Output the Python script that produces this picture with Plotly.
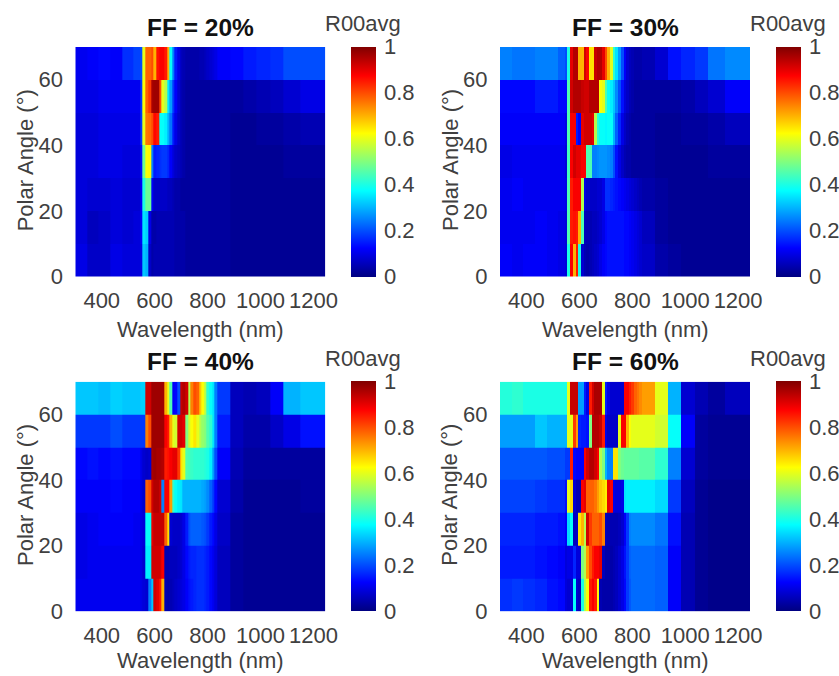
import plotly.graph_objects as go

W, H = 839, 676
polar_edges = [0, 10, 20, 30, 40, 50, 60, 70]
titles = ["FF = 20%", "FF = 30%", "FF = 40%", "FF = 60%"]
x_ticks = [400, 600, 800, 1000, 1200]
y_ticks = [0, 20, 40, 60]
cbar_ticks = [0, 0.2, 0.4, 0.6, 0.8, 1]

jet = [[0, "rgb(0,0,128)"], [0.125, "rgb(0,0,255)"], [0.375, "rgb(0,255,255)"],
       [0.625, "rgb(255,255,0)"], [0.875, "rgb(255,0,0)"], [1, "rgb(128,0,0)"]]

# Wavelength cell edges (nm), shared by all panels
wl_edges = [300, 344, 388, 432, 476, 520,
            545, 555, 565, 575, 586, 596, 606, 616, 626, 636, 646, 656, 666, 676, 686,
            696, 706, 716, 726, 736, 746, 756, 767, 777, 787, 797, 807, 817, 827,
            837, 885, 935, 986, 1036, 1086, 1149, 1245]

# Reflectance in percent by polar-angle band, bottom band (0-10 deg) first
r_20 = [
    [10, 7, 7, 10, 9, 9, 10, 32, 30, 7, 4, 5, 5, 5, 5, 5, 5, 5, 5, 4, 4, 4, 4, 3, 3, 3, 3, 3, 3, 3, 3, 3, 3, 3, 3, 3, 2, 2, 2, 2, 2, 2],
    [9, 6, 7, 9, 8, 9, 12, 35, 33, 10, 4, 4, 5, 5, 5, 5, 5, 5, 5, 4, 4, 4, 4, 3, 3, 3, 3, 3, 3, 3, 3, 3, 3, 3, 3, 3, 2, 2, 2, 2, 2, 2],
    [9, 8, 8, 9, 8, 8, 12, 40, 48, 48, 12, 7, 7, 7, 7, 7, 6, 6, 5, 4, 4, 3, 3, 3, 3, 3, 3, 3, 3, 3, 3, 3, 3, 3, 3, 3, 2, 2, 2, 2, 2, 2],
    [9, 9, 10, 10, 9, 9, 14, 48, 62, 63, 25, 15, 16, 17, 18, 18, 16, 12, 9, 7, 6, 5, 4, 3, 3, 3, 3, 3, 3, 3, 3, 3, 3, 3, 3, 3, 2, 2, 2, 2, 3, 3],
    [9, 9, 10, 10, 10, 10, 18, 60, 76, 77, 80, 87, 85, 38, 38, 36, 30, 24, 15, 10, 7, 5, 4, 3, 3, 3, 3, 3, 3, 3, 3, 3, 3, 3, 3, 3, 2, 2, 3, 3, 4, 5],
    [10, 10, 11, 11, 11, 11, 18, 62, 78, 82, 96, 97, 97, 80, 60, 55, 35, 28, 18, 12, 8, 5, 4, 3, 3, 3, 3, 3, 3, 3, 3, 3, 3, 3, 3, 3, 3, 4, 5, 6, 8, 10],
    [11, 12, 13, 12, 17, 19, 20, 60, 78, 78, 80, 70, 86, 88, 88, 85, 70, 38, 25, 15, 10, 6, 5, 4, 4, 4, 4, 4, 5, 5, 6, 7, 8, 9, 10, 12, 13, 15, 16, 17, 20, 20],
]

r_30 = [
    [12, 11, 12, 12, 11, 10, 9, 40, 88, 70, 85, 40, 8, 5, 4, 5, 6, 7, 8, 10, 12, 13, 14, 14, 14, 14, 14, 14, 13, 13, 12, 11, 10, 9, 8, 7, 4, 3, 2, 2, 2, 2],
    [11, 11, 11, 12, 11, 10, 9, 45, 85, 86, 85, 70, 45, 6, 5, 5, 6, 6, 7, 8, 10, 13, 14, 14, 14, 14, 14, 14, 13, 13, 12, 11, 10, 9, 8, 6, 3, 2, 2, 2, 2, 2],
    [11, 12, 11, 11, 11, 11, 10, 45, 85, 88, 88, 88, 55, 10, 7, 7, 7, 7, 8, 8, 10, 17, 17, 16, 15, 14, 13, 12, 11, 10, 9, 8, 7, 6, 5, 4, 3, 2, 2, 2, 2, 2],
    [10, 11, 11, 11, 11, 11, 9, 44, 88, 92, 90, 90, 88, 88, 45, 45, 25, 25, 26, 27, 27, 27, 26, 25, 20, 14, 10, 7, 5, 4, 4, 3, 3, 3, 3, 3, 2, 2, 2, 2, 3, 3],
    [12, 12, 12, 12, 12, 12, 10, 45, 88, 88, 15, 12, 90, 92, 92, 92, 90, 55, 42, 38, 38, 37, 38, 38, 30, 22, 16, 10, 7, 5, 4, 3, 3, 3, 3, 3, 2, 2, 3, 3, 4, 6],
    [13, 13, 13, 15, 15, 13, 13, 45, 92, 95, 95, 95, 93, 92, 92, 95, 95, 95, 95, 62, 60, 45, 38, 36, 32, 26, 20, 14, 9, 7, 5, 4, 3, 3, 3, 3, 3, 3, 4, 6, 8, 12],
    [25, 24, 24, 25, 25, 22, 20, 40, 90, 95, 95, 70, 70, 92, 88, 65, 65, 93, 95, 95, 90, 80, 70, 60, 42, 35, 28, 20, 12, 8, 6, 5, 4, 4, 4, 5, 8, 14, 16, 18, 24, 26],
]

r_40 = [
    [11, 11, 11, 11, 11, 11, 10, 9, 8, 25, 32, 92, 90, 85, 70, 5, 4, 5, 6, 7, 8, 9, 10, 12, 14, 15, 16, 17, 17, 17, 16, 15, 13, 11, 9, 6, 3, 2, 2, 2, 2, 2],
    [10, 11, 11, 11, 11, 11, 10, 8, 36, 36, 92, 92, 92, 92, 88, 5, 5, 6, 6, 6, 7, 8, 10, 13, 15, 16, 16, 17, 17, 17, 16, 15, 13, 11, 9, 6, 3, 2, 2, 2, 2, 2],
    [10, 11, 12, 12, 12, 11, 10, 9, 38, 38, 90, 93, 93, 93, 93, 78, 65, 8, 7, 7, 7, 8, 10, 15, 20, 22, 22, 22, 22, 21, 20, 18, 15, 13, 10, 7, 3, 2, 2, 2, 2, 2],
    [12, 12, 12, 13, 12, 12, 10, 8, 78, 80, 92, 95, 95, 92, 25, 88, 88, 72, 42, 38, 36, 35, 30, 30, 30, 30, 30, 30, 30, 29, 28, 26, 22, 18, 13, 8, 4, 2, 2, 2, 2, 3],
    [13, 14, 13, 14, 13, 13, 10, 8, 7, 8, 96, 97, 96, 96, 95, 85, 86, 88, 90, 90, 82, 65, 60, 45, 44, 43, 42, 42, 42, 42, 41, 40, 36, 28, 20, 12, 5, 3, 3, 3, 3, 3],
    [18, 18, 18, 20, 18, 18, 18, 18, 75, 80, 97, 97, 97, 97, 97, 88, 85, 70, 60, 58, 92, 92, 90, 50, 58, 62, 65, 60, 55, 52, 50, 45, 42, 35, 25, 15, 6, 4, 4, 7, 10, 14],
    [32, 32, 31, 33, 32, 32, 33, 33, 92, 92, 97, 97, 97, 97, 97, 70, 60, 45, 12, 13, 20, 93, 95, 92, 55, 75, 80, 78, 68, 62, 55, 42, 38, 35, 25, 18, 6, 5, 6, 12, 30, 32],
]

r_60 = [
    [17, 18, 17, 16, 14, 13, 9, 8, 8, 38, 8, 6, 40, 55, 62, 85, 88, 85, 62, 5, 4, 4, 4, 4, 5, 6, 8, 10, 13, 18, 21, 23, 23, 23, 23, 23, 22, 12, 5, 2, 1, 1],
    [15, 15, 15, 14, 13, 12, 9, 10, 10, 16, 9, 9, 50, 55, 72, 80, 85, 88, 88, 90, 6, 4, 4, 4, 5, 6, 8, 10, 14, 18, 22, 23, 23, 23, 23, 23, 22, 12, 5, 2, 1, 1],
    [16, 16, 16, 15, 15, 14, 12, 34, 38, 6, 7, 65, 70, 55, 92, 82, 78, 78, 78, 80, 75, 6, 5, 5, 5, 5, 6, 8, 12, 18, 25, 26, 26, 26, 26, 26, 24, 14, 5, 2, 1, 1],
    [19, 19, 19, 18, 17, 17, 14, 60, 66, 8, 5, 5, 88, 90, 78, 78, 78, 76, 72, 68, 66, 64, 90, 88, 10, 9, 9, 10, 35, 36, 36, 36, 36, 36, 36, 36, 34, 18, 6, 2, 1, 1],
    [21, 21, 21, 21, 20, 20, 18, 18, 85, 13, 12, 12, 12, 88, 92, 95, 95, 92, 88, 55, 50, 30, 25, 25, 65, 65, 50, 48, 47, 47, 47, 47, 47, 47, 46, 46, 42, 25, 8, 3, 2, 2],
    [28, 28, 28, 32, 30, 30, 30, 60, 60, 82, 72, 16, 15, 15, 14, 50, 95, 95, 95, 93, 85, 10, 7, 7, 7, 7, 60, 88, 88, 70, 62, 60, 60, 60, 60, 60, 58, 38, 12, 3, 2, 2],
    [41, 42, 40, 40, 40, 40, 40, 60, 93, 93, 93, 28, 28, 15, 10, 85, 92, 96, 96, 96, 60, 15, 10, 8, 8, 8, 8, 8, 88, 88, 85, 82, 78, 76, 74, 72, 60, 30, 8, 5, 3, 6],
]

wavelengths = [wl_edges] * 4
reflectance = [r_20, r_30, r_40, r_60]
for panel in reflectance:
    for row in panel:
        assert len(row) == len(wl_edges) - 1

# Panel rectangles in page pixels
lefts = [75.3, 500, 75.3, 500]
tops = [47, 47, 381.7, 381.7]
xlabel_gaps = [53, 53, 49, 49]
plot_w, plot_h = 250, 229.5
cbar_gap, cbar_w = 276, 25

text_col = "#404040"
fs = 22
font = dict(family="Liberation Sans", size=fs, color=text_col)


def px_x(v):
    return v / W


def px_y(v):
    return 1 - v / H


def label(text, x, y, fnt=font, angle=0):
    return dict(text=text, xref="paper", yref="paper", x=px_x(x), y=px_y(y),
                xanchor="center", yanchor="middle", showarrow=False, font=fnt,
                textangle=angle)


fig = go.Figure()
layout = {}
annotations = []
for i in range(4):
    n = "" if i == 0 else str(i + 1)
    l, t = lefts[i], tops[i]
    fig.add_trace(go.Heatmap(
        x=wavelengths[i], y=polar_edges,
        z=[[v / 100 for v in row] for row in reflectance[i]],
        xaxis="x" + n, yaxis="y" + n, zmin=0, zmax=1, colorscale=jet,
        colorbar=dict(
            x=px_x(l + cbar_gap), xanchor="left", xpad=0, ypad=0,
            y=px_y(t + plot_h), yanchor="bottom", len=plot_h / H, lenmode="fraction",
            thickness=cbar_w, thicknessmode="pixels", outlinewidth=0,
            tickvals=cbar_ticks, ticktext=["0", "0.2", "0.4", "0.6", "0.8", "1"],
            ticks="outside", ticklen=4, tickcolor="rgba(0,0,0,0)", tickfont=font,
        ),
    ))
    layout["xaxis" + n] = dict(
        domain=[px_x(l), px_x(l + plot_w)], range=[300, 1245], anchor="y" + n,
        tickvals=x_ticks, ticks="outside", ticklen=4, tickcolor="rgba(0,0,0,0)",
        showgrid=False, zeroline=False, showline=False, tickfont=font,
    )
    layout["yaxis" + n] = dict(
        domain=[px_y(t + plot_h), px_y(t)], range=[0, 70], anchor="x" + n,
        tickvals=y_ticks, ticks="outside", ticklen=7, tickcolor="rgba(0,0,0,0)",
        showgrid=False, zeroline=False, showline=False, tickfont=font,
    )
    annotations.append(label("<b>" + titles[i] + "</b>", l + 125, t - 20,
                             dict(family="Liberation Sans", size=24.5, color="#111111")))
    annotations.append(label("R00avg", l + cbar_gap + 12, t - 23))
    annotations.append(label("Wavelength (nm)", l + 125, t + plot_h + xlabel_gaps[i]))
    annotations.append(label("Polar Angle (°)", l - 50, t + 113, angle=-90))

fig.update_layout(
    width=W, height=H, margin=dict(l=0, r=0, t=0, b=0, autoexpand=False),
    paper_bgcolor="white", plot_bgcolor="white",
    annotations=annotations, **layout,
)
fig.write_html("out.html", config={"displayModeBar": False},
               post_script="document.body.style.margin='0';document.documentElement.style.overflow='hidden';")
